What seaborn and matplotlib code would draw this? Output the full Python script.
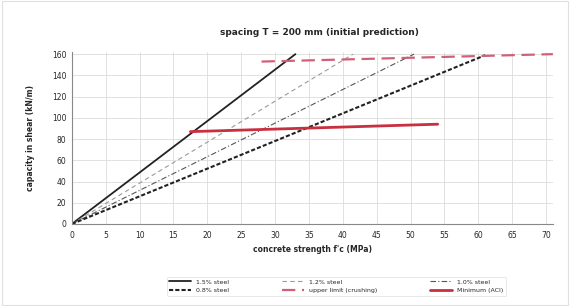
import matplotlib
matplotlib.use("Agg")
import matplotlib.pyplot as plt
import seaborn as sns
import pandas as pd

sns.set_theme(style="whitegrid")
plt.rcParams['font.family'] = ['DejaVu Sans']

title = "spacing T = 200 mm (initial prediction)"
x_label = "concrete strength f'c (MPa)"
y_label = "capacity in shear (kN/m)"
x_ticks = [0, 5, 10, 15, 20, 25, 30, 35, 40, 45, 50, 55, 60, 65, 70]
y_ticks = [0, 20, 40, 60, 80, 100, 120, 140, 160]

s1_name = "1.5% steel"
s1_x = [0, 33]
s1_y = [0, 160]
s2_name = "1.2% steel"
s2_x = [0, 41.5]
s2_y = [0, 160]
s3_name = "1.0% steel"
s3_x = [0, 50.5]
s3_y = [0, 160]
s4_name = "0.8% steel"
s4_x = [0, 61]
s4_y = [0, 159]
lim_name = "upper limit (crushing)"
lim_x = [28, 71]
lim_y = [153, 160]
min_name = "Minimum (ACI)"
min_x = [17.5, 54]
min_y = [87, 94]

fig = plt.figure(figsize=(5.7, 3.06), dpi=100)
ax = fig.add_axes([0.126, 0.268, 0.844, 0.562])

def draw(xs, ys, name, **kw):
    df = pd.DataFrame({"x": xs, "y": ys})
    sns.lineplot(data=df, x="x", y="y", ax=ax, label=name, **kw)

draw(s1_x, s1_y, s1_name, color="#222222", linewidth=1.3)
draw(s2_x, s2_y, s2_name, color="#9a9a9a", linewidth=0.8, linestyle=(0, (4, 3)))
draw(s3_x, s3_y, s3_name, color="#555555", linewidth=0.8, linestyle=(0, (5, 2, 1, 2)))
draw(s4_x, s4_y, s4_name, color="#222222", linewidth=1.5, linestyle=(0, (2, 1)))
draw(lim_x, lim_y, lim_name, color="#d0607a", linewidth=1.6, linestyle=(0, (6, 3)))
draw(min_x, min_y, min_name, color="#c8303f", linewidth=2.0)

ax.set_xlim(0, 71)
ax.set_ylim(0, 162)
ax.set_xticks(x_ticks)
ax.set_yticks(y_ticks)
ax.tick_params(axis="x", labelsize=5.5, pad=5, length=0)
ax.tick_params(axis="y", labelsize=5.5, pad=4, length=0)
ax.grid(True, color="#dcdcdc", linewidth=0.6)
for s in ["top", "right"]:
    ax.spines[s].set_visible(False)
for s in ["left", "bottom"]:
    ax.spines[s].set_color("#888888")
    ax.spines[s].set_linewidth(0.8)
ax.set_xlabel(x_label, fontsize=5.5, labelpad=4, fontweight="bold")
ax.set_ylabel(y_label, fontsize=5.5, labelpad=12, fontweight="bold")
fig.text(0.56, 0.885, title, fontsize=6.5, fontweight="bold", ha="center")

handles, labels = ax.get_legend_handles_labels()
idx = [0, 3, 1, 4, 2, 5]
leg = fig.legend([handles[i] for i in idx], [labels[i] for i in idx],
                 loc="center", bbox_to_anchor=(0.59, 0.065), ncol=3,
                 fontsize=4.5, frameon=True, handlelength=3.5, columnspacing=8.5,
                 borderpad=0.4, labelspacing=0.5)
leg.get_frame().set_edgecolor("#dddddd")
leg.get_frame().set_linewidth(0.6)
ax.get_legend().remove()

fig.patches.append(plt.Rectangle((0.003, 0.003), 0.994, 0.994, transform=fig.transFigure,
                                 fill=False, edgecolor="#e0e0e0", linewidth=0.8))
fig.savefig("out.png", dpi=100, facecolor="white")
